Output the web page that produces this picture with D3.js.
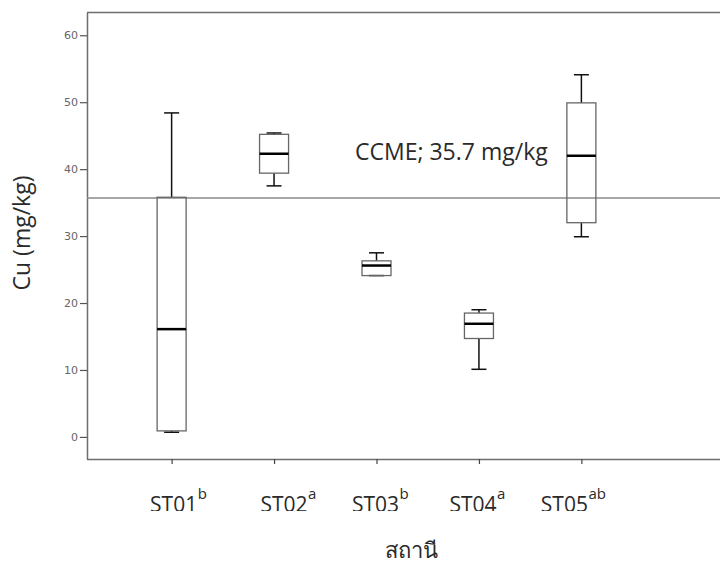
<!DOCTYPE html>
<html>
<head>
<meta charset="utf-8">
<script src="https://cdn.jsdelivr.net/npm/d3@7"></script>
<style>
  html, body { margin: 0; padding: 0; background: #fff; }
  svg { display: block; }
  text { font-family: "Open Sans", "Noto Sans", sans-serif; }
</style>
</head>
<body>
<svg id="chart" width="720" height="569"></svg>
<script>
// Stations and their significance-group letters
const stations = ["ST01", "ST02", "ST03", "ST04", "ST05"];
const groups   = ["b", "a", "b", "a", "ab"];

// Box-plot statistics for Cu (mg/kg) at each station
const whiskerLow  = [0.7, 37.5, 24.1, 10.1, 29.9];
const q1          = [0.9, 39.4, 24.1, 14.7, 32.0];
const median      = [16.1, 42.3, 25.6, 16.9, 42.0];
const q3          = [35.8, 45.2, 26.3, 18.5, 49.9];
const whiskerHigh = [48.4, 45.4, 27.5, 19.0, 54.1];

// Reference guideline
const ccmeValue = 35.7;
const ccmeLabel = "CCME; 35.7 mg/kg";

// Y-axis ticks
const yTicks = [0, 10, 20, 30, 40, 50, 60];

// Horizontal nudges of the station labels (px)
const labelNudge = [2, 10, -1, -6, -17];

const data = stations.map((s, i) => ({
  station: s, group: groups[i],
  lo: whiskerLow[i], q1: q1[i], med: median[i], q3: q3[i], hi: whiskerHigh[i]
}));

const svg = d3.select("#chart");
const plotLeft = 87, plotRight = 720, plotTop = 12.5, plotBottom = 459;

const x = d3.scalePoint().domain(stations).range([plotLeft, 666]).padding(0.826);
const y = d3.scaleLinear().domain([-3.3, 63.4]).range([plotBottom, plotTop]);

const boxW = 29, capW = 15;
const frameColor = "#6e6e6e";
const textColor = "#2a2a2a";

// Plot frame (top edge)
svg.append("line").attr("x1", plotLeft).attr("x2", plotRight)
  .attr("y1", plotTop).attr("y2", plotTop)
  .attr("stroke", frameColor).attr("stroke-width", 1.5);

// Y axis
const yAxis = svg.append("g").attr("transform", `translate(${plotLeft},0)`)
  .call(d3.axisLeft(y).tickValues(yTicks).tickSize(7).tickPadding(2).tickSizeOuter(0));
yAxis.select(".domain").attr("stroke", frameColor).attr("stroke-width", 1.5);
yAxis.selectAll(".tick line").attr("stroke", "#555").attr("stroke-width", 1.2);
yAxis.selectAll(".tick text").attr("fill", "#666").style("font-size", "11px")
  .style("font-family", "'DejaVu Sans', sans-serif");

// X axis
const xAxis = svg.append("g").attr("transform", `translate(0,${plotBottom})`)
  .call(d3.axisBottom(x).tickSize(5).tickSizeOuter(0).tickFormat(""));
xAxis.select(".domain").attr("d", `M${plotLeft},0.5H${plotRight}`)
  .attr("stroke", frameColor).attr("stroke-width", 1.5);
xAxis.selectAll(".tick line").attr("stroke", "#444").attr("stroke-width", 1.2);

// CCME guideline
svg.append("line")
  .attr("x1", plotLeft).attr("x2", plotRight)
  .attr("y1", y(ccmeValue)).attr("y2", y(ccmeValue))
  .attr("stroke", "#8a8a8a").attr("stroke-width", 1.5);
svg.append("text").attr("x", 355).attr("y", 160)
  .attr("fill", textColor).style("font-size", "23px").text(ccmeLabel);

// Boxes
const g = svg.append("g").selectAll("g").data(data).join("g")
  .attr("transform", d => `translate(${x(d.station)},0)`);

// whiskers
g.append("line").attr("x1", 0).attr("x2", 0)
  .attr("y1", d => y(d.hi)).attr("y2", d => y(d.q3))
  .attr("stroke", "#111").attr("stroke-width", 1.5);
g.append("line").attr("x1", 0).attr("x2", 0)
  .attr("y1", d => y(d.lo)).attr("y2", d => y(d.q1))
  .attr("stroke", "#111").attr("stroke-width", 1.5);
g.append("line").attr("x1", -capW / 2).attr("x2", capW / 2)
  .attr("y1", d => y(d.hi)).attr("y2", d => y(d.hi))
  .attr("stroke", "#111").attr("stroke-width", 1.5);
g.append("line").attr("x1", -capW / 2).attr("x2", capW / 2)
  .attr("y1", d => y(d.lo)).attr("y2", d => y(d.lo))
  .attr("stroke", "#111").attr("stroke-width", 1.5);

// box
g.append("rect")
  .attr("x", -boxW / 2).attr("width", boxW)
  .attr("y", d => y(d.q3)).attr("height", d => y(d.q1) - y(d.q3))
  .attr("fill", "none").attr("stroke", "#666").attr("stroke-width", 1.3);

// median
g.append("line").attr("x1", -boxW / 2).attr("x2", boxW / 2)
  .attr("y1", d => y(d.med)).attr("y2", d => y(d.med))
  .attr("stroke", "#000").attr("stroke-width", 2.5);

// Station labels, clipped along the bottom
svg.append("defs").append("clipPath").attr("id", "labelClip")
  .append("rect").attr("x", 0).attr("y", 470).attr("width", 720).attr("height", 41);

const labels = svg.append("g").attr("clip-path", "url(#labelClip)")
  .selectAll("g").data(data).join("g")
  .attr("transform", (d, i) => `translate(${x(d.station) + labelNudge[i]},0)`);
labels.append("text").attr("class", "main")
  .attr("y", 512).attr("text-anchor", "middle")
  .attr("fill", textColor).style("font-size", "21px").text(d => d.station);
labels.each(function () {
  const gEl = d3.select(this);
  const w = gEl.select("text.main").node().getComputedTextLength();
  gEl.append("text").attr("x", w / 2 + 0.5).attr("y", 499)
    .attr("fill", textColor).style("font-size", "15px").text(d => d.group);
});

// Axis titles
svg.append("text")
  .attr("transform", "translate(30,233) rotate(-90)")
  .attr("text-anchor", "middle").attr("fill", textColor)
  .style("font-size", "23px").text("Cu (mg/kg)");

svg.append("text").attr("x", 411).attr("y", 558)
  .attr("text-anchor", "middle").attr("fill", textColor)
  .style("font-size", "22px").text("สถานี");
</script>
</body>
</html>
